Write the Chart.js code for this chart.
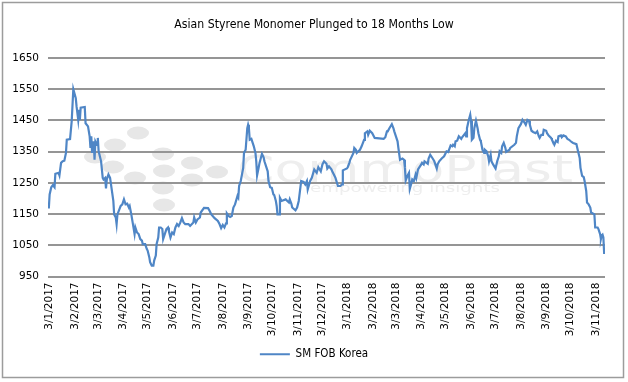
<!DOCTYPE html>
<html>
<head>
<meta charset="utf-8">
<script src="https://cdn.jsdelivr.net/npm/chart.js@4.4.1/dist/chart.umd.min.js"></script>
<style>
html,body{margin:0;padding:0;background:#fff;}
#wrap{width:628px;height:382px;}
</style>
</head>
<body>
<div id="wrap"><canvas id="c" width="628" height="382"></canvas></div>
<script>
const chartTitle = "Asian Styrene Monomer Plunged to 18 Months Low";
const seriesName = "SM FOB Korea";
const tickLabels = ["3/1/2017","3/2/2017","3/3/2017","3/4/2017","3/5/2017","3/6/2017","3/7/2017","3/8/2017","3/9/2017","3/10/2017","3/11/2017","3/12/2017","3/1/2018","3/2/2018","3/3/2018","3/4/2018","3/5/2018","3/6/2018","3/7/2018","3/8/2018","3/9/2018","3/10/2018","3/11/2018"];
const yTicks = [950,1050,1150,1250,1350,1450,1550,1650];

const dates = [
"2017-01-02","2017-01-03","2017-01-05","2017-01-07","2017-01-09","2017-01-10","2017-01-14","2017-01-15","2017-01-17","2017-01-19",
"2017-01-21","2017-01-23","2017-01-24","2017-01-28","2017-01-30","2017-02-01","2017-02-04","2017-02-05","2017-02-07","2017-02-08",
"2017-02-09","2017-02-10","2017-02-15","2017-02-16","2017-02-19","2017-02-21","2017-02-22","2017-02-23","2017-02-24","2017-02-26",
"2017-02-27","2017-02-28","2017-03-02","2017-03-03","2017-03-04","2017-03-07","2017-03-09","2017-03-10","2017-03-12","2017-03-13",
"2017-03-14","2017-03-16","2017-03-18","2017-03-20","2017-03-22","2017-03-23","2017-03-25","2017-03-26","2017-03-27","2017-03-31",
"2017-04-02","2017-04-04","2017-04-06","2017-04-08","2017-04-10","2017-04-11","2017-04-13","2017-04-15","2017-04-17","2017-04-18",
"2017-04-20","2017-04-22","2017-04-24","2017-04-26","2017-04-27","2017-04-30","2017-05-02","2017-05-03","2017-05-05","2017-05-06",
"2017-05-08","2017-05-10","2017-05-11","2017-05-13","2017-05-14","2017-05-16","2017-05-17","2017-05-19","2017-05-21","2017-05-22",
"2017-05-24","2017-05-26","2017-05-28","2017-05-29","2017-05-31","2017-06-02","2017-06-04","2017-06-06","2017-06-08","2017-06-10",
"2017-06-12","2017-06-14","2017-06-16","2017-06-18","2017-06-22","2017-06-24","2017-06-28","2017-06-29","2017-07-01","2017-07-03",
"2017-07-06","2017-07-07","2017-07-11","2017-07-16","2017-07-18","2017-07-20","2017-07-24","2017-07-28","2017-07-30","2017-08-01",
"2017-08-03","2017-08-05","2017-08-07","2017-08-08","2017-08-10","2017-08-12","2017-08-14","2017-08-16","2017-08-18","2017-08-21",
"2017-08-22","2017-08-23","2017-08-25","2017-08-28","2017-08-29","2017-08-31","2017-09-02","2017-09-03","2017-09-04","2017-09-05",
"2017-09-07","2017-09-08","2017-09-10","2017-09-12","2017-09-13","2017-09-14","2017-09-16","2017-09-17","2017-09-20","2017-09-22",
"2017-09-23","2017-09-27","2017-09-28","2017-09-30","2017-10-02","2017-10-04","2017-10-05","2017-10-07","2017-10-08","2017-10-09",
"2017-10-11","2017-10-12","2017-10-14","2017-10-19","2017-10-23","2017-10-24","2017-10-26","2017-10-27","2017-10-31","2017-11-02",
"2017-11-04","2017-11-05","2017-11-07","2017-11-10","2017-11-12","2017-11-14","2017-11-15","2017-11-18","2017-11-20","2017-11-23",
"2017-11-26","2017-11-28","2017-12-01","2017-12-03","2017-12-05","2017-12-08","2017-12-09","2017-12-11","2017-12-14","2017-12-15",
"2017-12-17","2017-12-19","2017-12-22","2017-12-25","2017-12-27","2017-12-28","2018-01-02","2018-01-03","2018-01-05","2018-01-06",
"2018-01-10","2018-01-11","2018-01-13","2018-01-14","2018-01-18","2018-01-20","2018-01-23","2018-01-24","2018-01-27","2018-01-28",
"2018-01-30","2018-02-02","2018-02-05","2018-02-16","2018-02-18","2018-02-20","2018-02-21","2018-02-23","2018-02-26","2018-02-28",
"2018-03-01","2018-03-03","2018-03-05","2018-03-06","2018-03-08","2018-03-11","2018-03-13","2018-03-14","2018-03-15","2018-03-17",
"2018-03-19","2018-03-20","2018-03-22","2018-03-23","2018-03-25","2018-03-27","2018-03-28","2018-03-30","2018-04-03","2018-04-04",
"2018-04-06","2018-04-07","2018-04-11","2018-04-12","2018-04-14","2018-04-17","2018-04-19","2018-04-22","2018-04-23","2018-04-25",
"2018-04-28","2018-05-01","2018-05-04","2018-05-06","2018-05-07","2018-05-09","2018-05-11","2018-05-12","2018-05-14","2018-05-15",
"2018-05-17","2018-05-19","2018-05-22","2018-05-23","2018-05-27","2018-05-28","2018-05-29","2018-05-31","2018-06-02","2018-06-03",
"2018-06-04","2018-06-06","2018-06-07","2018-06-09","2018-06-11","2018-06-12","2018-06-14","2018-06-15","2018-06-17","2018-06-19",
"2018-06-20","2018-06-22","2018-06-24","2018-06-25","2018-06-27","2018-06-28","2018-06-30","2018-07-03","2018-07-05","2018-07-07",
"2018-07-08","2018-07-10","2018-07-11","2018-07-13","2018-07-15","2018-07-16","2018-07-20","2018-07-21","2018-07-26","2018-07-28",
"2018-07-29","2018-07-31","2018-08-03","2018-08-05","2018-08-07","2018-08-09","2018-08-11","2018-08-13","2018-08-14","2018-08-16",
"2018-08-18","2018-08-21","2018-08-23","2018-08-25","2018-08-26","2018-08-28","2018-08-30","2018-08-31","2018-09-03","2018-09-04",
"2018-09-06","2018-09-09","2018-09-10","2018-09-12","2018-09-13","2018-09-15","2018-09-17","2018-09-18","2018-09-21","2018-09-22",
"2018-09-24","2018-09-27","2018-09-29","2018-10-01","2018-10-04","2018-10-06","2018-10-10","2018-10-12","2018-10-14","2018-10-15",
"2018-10-17","2018-10-19","2018-10-20","2018-10-22","2018-10-23","2018-10-25","2018-10-27","2018-10-28","2018-11-01","2018-11-02",
"2018-11-05","2018-11-06","2018-11-08","2018-11-09","2018-11-10","2018-11-11","2018-11-12","2018-11-13"
];

const smFobKorea = [
1168,1213,1236,1243,1236,1279,1282,1274,1314,1319,
1321,1346,1388,1390,1447,1550,1521,1494,1452,1484,
1452,1491,1493,1441,1431,1399,1362,1399,1346,1383,
1324,1383,1372,1394,1351,1319,1266,1261,1266,1232,
1261,1277,1266,1229,1192,1149,1139,1118,1149,1176,
1181,1197,1181,1183,1171,1176,1149,1118,1086,1107,
1091,1086,1070,1065,1054,1054,1038,1033,1012,996,
985,985,1001,1017,1054,1075,1107,1107,1102,1070,
1086,1102,1107,1096,1075,1091,1086,1107,1118,1112,
1123,1137,1123,1118,1118,1112,1123,1139,1123,1133,
1139,1155,1170,1169,1160,1149,1137,1128,1118,1105,
1115,1107,1120,1152,1144,1141,1144,1171,1181,1208,
1203,1240,1256,1298,1346,1356,1425,1436,1425,1388,
1391,1383,1367,1346,1319,1274,1300,1314,1343,1332,
1319,1287,1256,1236,1234,1213,1211,1192,1176,1149,
1149,1202,1192,1197,1187,1197,1183,1171,1162,1171,
1192,1213,1256,1253,1245,1256,1229,1256,1266,1293,
1282,1300,1287,1309,1319,1311,1296,1303,1293,1287,
1277,1266,1240,1240,1245,1290,1296,1300,1314,1324,
1346,1362,1356,1346,1356,1367,1388,1409,1415,1404,
1417,1409,1394,1391,1396,1415,1415,1425,1438,1425,
1415,1399,1383,1362,1324,1328,1324,1298,1258,1272,
1282,1231,1250,1261,1256,1276,1266,1293,1309,1314,
1309,1319,1311,1328,1340,1328,1319,1296,1309,1319,
1328,1335,1351,1349,1356,1370,1367,1372,1367,1383,
1385,1399,1391,1396,1409,1399,1425,1449,1468,1449,
1388,1394,1425,1449,1425,1409,1388,1383,1356,1346,
1356,1351,1335,1319,1340,1319,1309,1296,1319,1335,
1351,1346,1367,1378,1362,1349,1356,1362,1372,1378,
1399,1425,1438,1452,1445,1436,1452,1449,1436,1417,
1413,1409,1415,1399,1394,1404,1404,1420,1417,1409,
1402,1394,1388,1378,1372,1385,1381,1399,1402,1396,
1402,1399,1391,1388,1381,1378,1374,1351,1330,1298,
1272,1268,1256,1224,1187,1181,1171,1155,1149,1107,
1107,1102,1086,1070,1081,1084,1075,1022
];

const DAY = 86400000;
const BASE = Date.UTC(2017, 0, 1);
function isoDay(s) { const p = s.split('-').map(Number); return Math.round((Date.UTC(p[0], p[1]-1, p[2]) - BASE) / DAY); }
function labelDay(s) { const p = s.split('/').map(Number); return Math.round((Date.UTC(p[2], p[1]-1, p[0]) - BASE) / DAY); }
const tickDays = tickLabels.map(labelDay);

const mctx = document.createElement('canvas').getContext('2d');
function hasFont(name) {
  const probe = 'abcdefghijklmnopWMi0123';
  mctx.font = '40px monospace';
  const a = mctx.measureText(probe).width;
  mctx.font = '40px "' + name + '", monospace';
  return Math.abs(mctx.measureText(probe).width - a) > 0.5;
}
const condensed = ['Liberation Sans Narrow', 'DejaVu Sans Condensed'].find(hasFont) || 'Liberation Sans';
function fitSize(family, text, target, maxSize) {
  mctx.font = '20px "' + family + '"';
  const w = mctx.measureText(text).width;
  return Math.min(maxSize, Math.round(20 * target / w * 10) / 10);
}
const titleFont = { family: '"' + condensed + '"', size: fitSize(condensed, chartTitle, 280, 16), weight: 'normal', lineHeight: 1.2 };
const legendFont = { family: '"' + condensed + '"', size: Math.max(11.5, fitSize(condensed, seriesName, 66, 13)) };
const tickFont = { family: "'DejaVu Sans'", size: 10.5 };

const decor = {
  id: 'decor',
  beforeDraw(chart) {
    const ctx = chart.ctx;
    ctx.save();
    ctx.fillStyle = '#ffffff';
    ctx.fillRect(0, 0, chart.width, chart.height);
    ctx.fillStyle = '#e7e7e7';
    const dots = [[138,133],[115,145],[95,157],[113,167],[135,178],[163,154],[164,171],[163,188],[164,205],[192,163],[192,180],[217,172]];
    dots.forEach(d => { ctx.beginPath(); ctx.ellipse(d[0], d[1], 11, 6.5, 0, 0, Math.PI * 2); ctx.fill(); });
    ctx.fillStyle = '#eeeeee';
    ctx.textBaseline = 'alphabetic';
    ctx.font = '38px "DejaVu Sans"';
    let w = ctx.measureText('CommoPlast').width;
    ctx.save(); ctx.translate(237, 182); ctx.scale(336 / w, 1); ctx.fillText('CommoPlast', 0, 0); ctx.restore();
    ctx.font = '13px "DejaVu Sans"';
    w = ctx.measureText('empowering insights').width;
    ctx.save(); ctx.translate(310, 192); ctx.scale(190 / w, 1); ctx.fillText('empowering insights', 0, 0); ctx.restore();
    ctx.restore();
  },
  afterDraw(chart) {
    const ctx = chart.ctx;
    ctx.save();
    ctx.strokeStyle = '#9c9c9c';
    ctx.lineWidth = 1.5;
    ctx.strokeRect(2.5, 2.5, 621, 375);
    ctx.restore();
  }
};

new Chart(document.getElementById('c'), {
  type: 'line',
  data: {
    datasets: [{
      label: seriesName,
      data: dates.map((d, i) => ({ x: isoDay(d), y: smFobKorea[i] })),
      borderColor: '#4f86c6',
      backgroundColor: '#4f86c6',
      borderWidth: 2.2,
      pointRadius: 0,
      tension: 0,
      fill: false
    }]
  },
  options: {
    responsive: false,
    animation: false,
    devicePixelRatio: 1,
    layout: { padding: { top: 4, right: 0, bottom: 12, left: 0 } },
    plugins: {
      title: { display: true, text: chartTitle, color: '#000', font: titleFont, padding: { top: 14, bottom: 58 - 4 - 14 - titleFont.size * 1.2 } },
      legend: {
        display: true, position: 'bottom',
        labels: { usePointStyle: true, pointStyle: 'line', pointStyleWidth: 30, boxHeight: 12, color: '#000', font: legendFont, padding: 10 }
      },
      tooltip: { enabled: false }
    },
    scales: {
      x: {
        type: 'linear',
        min: isoDay(dates[0]) - 1,
        max: isoDay(dates[dates.length - 1]) + 1,
        afterBuildTicks: (scale) => { scale.ticks = tickDays.map(v => ({ value: v })); },
        ticks: {
          autoSkip: false, minRotation: 90, maxRotation: 90, padding: 6, color: '#000', font: tickFont,
          callback: (value) => { const i = tickDays.indexOf(value); return i >= 0 ? tickLabels[i] : ''; }
        },
        grid: { display: false, drawTicks: false },
        border: { display: false },
        afterFit: (s) => { s.height = 62; }
      },
      y: {
        min: yTicks[0], max: yTicks[yTicks.length - 1],
        afterBuildTicks: (scale) => { scale.ticks = yTicks.map(v => ({ value: v })); },
        ticks: { padding: 9, color: '#000', font: tickFont, callback: (v) => String(v) },
        grid: { color: '#959595', lineWidth: 2, drawTicks: false },
        border: { display: false },
        afterFit: (s) => { s.width = 48; }
      },
      yRight: {
        type: 'linear', position: 'right', display: true,
        min: yTicks[0], max: yTicks[yTicks.length - 1],
        ticks: { display: false },
        grid: { display: false, drawTicks: false },
        border: { display: false },
        afterFit: (s) => { s.width = 23; }
      }
    }
  },
  plugins: [decor]
});
</script>
</body>
</html>
